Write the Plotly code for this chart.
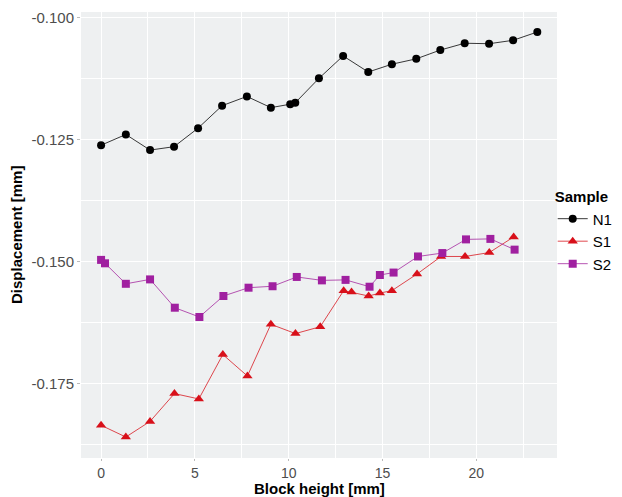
import plotly.graph_objects as go

n1_x = [0.0, 1.32, 2.61, 3.89, 5.17, 6.45, 7.77, 9.05, 10.08, 10.35, 11.61,
        12.9, 14.24, 15.5, 16.8, 18.08, 19.38, 20.68, 21.96, 23.25]
n1_y = [-0.1261, -0.1239, -0.1271, -0.1264, -0.1226, -0.1180, -0.1161, -0.1184,
        -0.1177, -0.1174, -0.1124, -0.1078, -0.1111, -0.1095, -0.1084, -0.1066,
        -0.1052, -0.1053, -0.1046, -0.1029]

s1_x = [0.0, 1.32, 2.61, 3.91, 5.21, 6.49, 7.8, 9.05, 10.36, 11.68,
        12.93, 13.35, 14.26, 14.86, 15.5, 16.84, 18.12, 19.4, 20.69, 21.99]
s1_y = [-0.1835, -0.1859, -0.1827, -0.1770, -0.1781, -0.1690, -0.1734, -0.1628,
        -0.1647, -0.1633, -0.1559, -0.1562, -0.1570, -0.1564, -0.1559, -0.1525,
        -0.1489, -0.1489, -0.1481, -0.1449]

s2_x = [0.0, 0.21, 1.32, 2.61, 3.93, 5.24, 6.52, 7.86, 9.14, 10.43, 11.77,
        13.03, 14.31, 14.86, 15.59, 16.89, 18.19, 19.45, 20.75, 22.04]
s2_y = [-0.1496, -0.1503, -0.1545, -0.1536, -0.1594, -0.1613, -0.1570, -0.1553,
        -0.1550, -0.1531, -0.1538, -0.1537, -0.1551, -0.1527, -0.1522, -0.1489,
        -0.1482, -0.1454, -0.1453, -0.1475]

x_ticks = [0, 5, 10, 15, 20]
y_ticks = [-0.175, -0.150, -0.125, -0.100]
y_tick_labels = ["-0.175", "-0.150", "-0.125", "-0.100"]

fig = go.Figure()
fig.add_trace(go.Scatter(x=n1_x, y=n1_y, name="N1", mode="lines+markers",
                         line=dict(color="#222222", width=0.9),
                         marker=dict(symbol="circle", size=8, color="black")))
fig.add_trace(go.Scatter(x=s1_x, y=s1_y, name="S1", mode="lines+markers",
                         line=dict(color="#D81B22", width=0.8),
                         marker=dict(symbol="triangle-up", size=9, color="#D8101A")))
fig.add_trace(go.Scatter(x=s2_x, y=s2_y, name="S2", mode="lines+markers",
                         line=dict(color="#A52AA0", width=0.8),
                         marker=dict(symbol="square", size=8, color="#A020A0")))

fig.update_layout(
    width=614, height=489,
    margin=dict(l=73, r=65, t=4, b=39, autoexpand=False),
    paper_bgcolor="white",
    plot_bgcolor="#EEF0F1",
    font=dict(family="Liberation Sans, Arial, sans-serif", size=13, color="#4d4d4d"),
    showlegend=True,
    legend=dict(x=0.991, xanchor="left", y=0.508, yanchor="middle",
                title=dict(text="<b>Sample</b>", font=dict(size=15, color="black")),
                font=dict(size=15, color="black"),
                bgcolor="rgba(0,0,0,0)", itemwidth=30, tracegroupgap=0),
    xaxis=dict(range=[-1.07, 24.3], tickvals=x_ticks, showgrid=True, automargin=False,
               gridcolor="white", gridwidth=1, zeroline=False,
               minor=dict(dtick=2.5, tick0=2.5, showgrid=True, gridcolor="white", gridwidth=0.5),
               ticks="outside", ticklen=2, tickcolor="#bbbbbb",
               tickfont=dict(size=14, color="#4d4d4d")),
    yaxis=dict(range=[-0.1902, -0.0988], tickvals=y_ticks, ticktext=y_tick_labels,
               showgrid=True, gridcolor="white", gridwidth=1, zeroline=False, automargin=False,
               minor=dict(tickvals=[-0.1875, -0.1625, -0.1375, -0.1125], showgrid=True,
                          gridcolor="white", gridwidth=0.5),
               ticks="outside", ticklen=3, tickcolor="#bbbbbb",
               tickfont=dict(size=15, color="#4d4d4d")),
    annotations=[
        dict(text="<b>Block height [mm]</b>", xref="paper", yref="paper", x=0.5, y=-0.068,
             xanchor="center", yanchor="middle", showarrow=False,
             font=dict(size=15, color="black")),
        dict(text="<b>Displacement [mm]</b>", xref="paper", yref="paper", x=-0.1366, y=0.5,
             xanchor="center", yanchor="middle", showarrow=False, textangle=-90,
             font=dict(size=15, color="black")),
    ],
)

fig.write_html("out.html")
